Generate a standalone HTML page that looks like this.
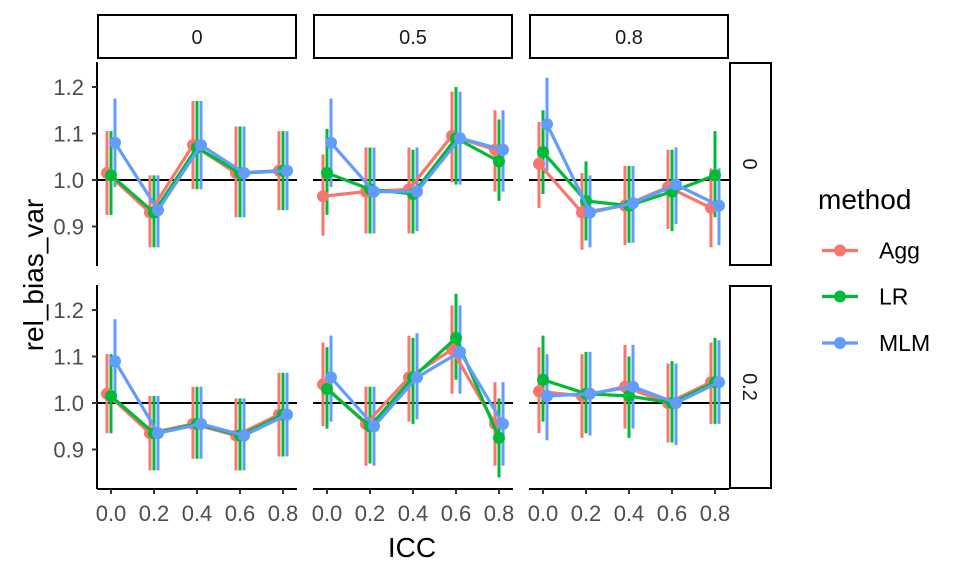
<!DOCTYPE html>
<html><head><meta charset="utf-8"><style>
body{margin:0;background:#fff;}
svg{display:block;font-family:"Liberation Sans",sans-serif;}
</style></head><body>
<svg id="s" width="960" height="576" xmlns="http://www.w3.org/2000/svg"></svg>
<script>
const S=document.getElementById('s');let h='';
const cols=['#F8766D','#00BA38','#619CFF'];
const colX=[97,313,529], W=200;
const rowY=[62,285], H=204;
const ym=(r,v)=>(r==0?180:403)-(v-1)*465;
const xm=(c,i,m)=>colX[c]+14+i*43+[-4,0,4][m];
const D=[
[[[1.015,.925,1.105],[.93,.855,1.01],[1.075,.98,1.17],[1.015,.92,1.115],[1.02,.935,1.105]],
 [[1.01,.925,1.105],[.93,.855,1.01],[1.07,.98,1.17],[1.015,.92,1.115],[1.02,.935,1.105]],
 [[1.08,.985,1.175],[.935,.855,1.01],[1.075,.98,1.17],[1.015,.92,1.115],[1.02,.935,1.105]]],
[[[.965,.88,1.055],[.975,.885,1.07],[.98,.885,1.07],[1.095,.995,1.19],[1.065,.975,1.15]],
 [[1.015,.925,1.11],[.98,.885,1.07],[.97,.885,1.065],[1.09,.99,1.2],[1.04,.955,1.13]],
 [[1.08,.985,1.175],[.975,.885,1.07],[.975,.89,1.07],[1.09,.99,1.19],[1.065,.975,1.15]]],
[[[1.035,.94,1.125],[.93,.85,1.015],[.945,.86,1.03],[.985,.895,1.065],[.94,.855,1.025]],
 [[1.06,.97,1.15],[.955,.87,1.04],[.945,.865,1.03],[.975,.89,1.065],[1.01,.92,1.105]],
 [[1.12,1.02,1.22],[.93,.855,1.01],[.95,.865,1.03],[.99,.905,1.07],[.945,.86,1.025]]],
[[[1.02,.935,1.105],[.935,.855,1.015],[.955,.88,1.035],[.93,.855,1.01],[.975,.885,1.065]],
 [[1.015,.935,1.105],[.935,.855,1.015],[.955,.88,1.035],[.93,.855,1.01],[.975,.885,1.065]],
 [[1.09,1.0,1.18],[.935,.855,1.015],[.955,.88,1.035],[.93,.855,1.01],[.975,.885,1.065]]],
[[[1.04,.95,1.13],[.955,.865,1.035],[1.055,.96,1.145],[1.115,1.02,1.21],[.955,.865,1.045]],
 [[1.03,.945,1.12],[.95,.87,1.035],[1.055,.955,1.14],[1.14,1.05,1.235],[.925,.84,1.01]],
 [[1.055,.96,1.145],[.95,.865,1.035],[1.055,.965,1.15],[1.11,1.02,1.21],[.955,.865,1.045]]],
[[[1.025,.935,1.12],[1.015,.925,1.105],[1.035,.945,1.125],[1.0,.915,1.085],[1.045,.955,1.13]],
 [[1.05,.96,1.145],[1.02,.935,1.11],[1.015,.925,1.1],[1.0,.915,1.09],[1.045,.955,1.14]],
 [[1.015,.92,1.105],[1.02,.93,1.11],[1.035,.945,1.125],[1.0,.91,1.085],[1.045,.955,1.135]]]
];
const labs=['0','0.5','0.8'];
for(let c=0;c<3;c++){
 h+=`<rect x="${colX[c]+1}" y="15" width="${W-2}" height="43" fill="#fff" stroke="#000" stroke-width="2"/>`;
 h+=`<text x="${colX[c]+W/2}" y="44" font-size="20" text-anchor="middle" fill="#1a1a1a">${labs[c]}</text>`;
}
for(let r=0;r<2;r++){
 h+=`<rect x="730" y="${rowY[r]+1}" width="41" height="${H-2}" fill="#fff" stroke="#000" stroke-width="2"/>`;
 const cy=rowY[r]+H/2;
 h+=`<text x="743" y="${cy}" font-size="20" text-anchor="middle" fill="#1a1a1a" transform="rotate(90 743 ${cy})">${r?'0.2':'0'}</text>`;
 h+=`<line x1="97" y1="${rowY[r]}" x2="97" y2="${rowY[r]+H}" stroke="#000" stroke-width="2"/>`;
 [[1.2,'1.2'],[1.1,'1.1'],[1.0,'1.0'],[0.9,'0.9']].forEach(([v,t])=>{const y=ym(r,v);
  h+=`<line x1="92" y1="${y}" x2="97" y2="${y}" stroke="#333" stroke-width="2"/>`;
  h+=`<text x="84" y="${y+8}" font-size="22" text-anchor="end" fill="#4d4d4d">${t}</text>`;});
 for(let c=0;c<3;c++){
  h+=`<line x1="${colX[c]}" y1="${ym(r,1)}" x2="${colX[c]+W}" y2="${ym(r,1)}" stroke="#000" stroke-width="2"/>`;
  const d=D[r*3+c];
  for(let m=0;m<3;m++){
   for(let i=0;i<5;i++){const x=xm(c,i,m);h+=`<line x1="${x}" y1="${ym(r,d[m][i][1])}" x2="${x}" y2="${ym(r,d[m][i][2])}" stroke="${cols[m]}" stroke-width="3"/>`;}
  }
  for(let m=0;m<3;m++){
   h+=`<polyline fill="none" stroke="${cols[m]}" stroke-width="3.2" points="${d[m].map((p,i)=>xm(c,i,m)+','+ym(r,p[0])).join(' ')}"/>`;
   for(let i=0;i<5;i++)h+=`<circle cx="${xm(c,i,m)}" cy="${ym(r,d[m][i][0])}" r="6" fill="${cols[m]}"/>`;
  }
 }
}
for(let c=0;c<3;c++){
 h+=`<line x1="${colX[c]}" y1="489" x2="${colX[c]+W}" y2="489" stroke="#000" stroke-width="2"/>`;
 ['0.0','0.2','0.4','0.6','0.8'].forEach((t,i)=>{const x=colX[c]+14+i*43;
  h+=`<line x1="${x}" y1="489" x2="${x}" y2="494" stroke="#333" stroke-width="2"/>`;
  h+=`<text x="${x}" y="521" font-size="22" text-anchor="middle" fill="#4d4d4d">${t}</text>`;});
}
h+=`<text x="412" y="557" font-size="28" text-anchor="middle" fill="#000">ICC</text>`;
h+=`<text x="43" y="275" font-size="28" text-anchor="middle" fill="#000" transform="rotate(-90 43 275)">rel_bias_var</text>`;
h+=`<text x="818" y="209" font-size="28" fill="#000">method</text>`;
['Agg','LR','MLM'].forEach((t,i)=>{const y=[250.5,296.5,343][i];
 h+=`<line x1="822" y1="${y}" x2="858" y2="${y}" stroke="${cols[i]}" stroke-width="3.2"/><circle cx="840" cy="${y}" r="6" fill="${cols[i]}"/>`;
 h+=`<text x="879" y="${y+8}" font-size="23" fill="#000">${t}</text>`;});
S.innerHTML=h;
</script>
</body></html>
